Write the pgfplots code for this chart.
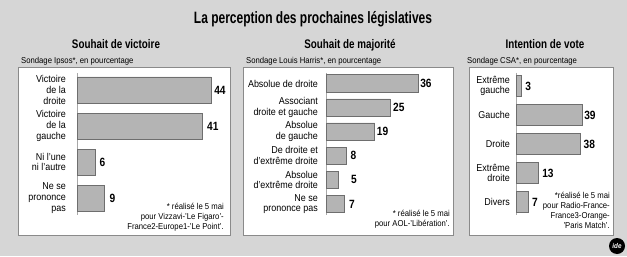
\documentclass[border=0pt]{standalone}
\usepackage{fontspec}
\setmainfont{Liberation Sans}[FakeStretch=0.9]
\newfontfamily\valfont{Liberation Sans}[FakeStretch=0.85]
\newfontfamily\titlefont{Liberation Sans}[FakeStretch=0.73]
\newfontfamily\subfont{Liberation Sans}[FakeStretch=0.79]
\usepackage{pgfplots}
\usepackage{pgfplotstable}
\pgfplotsset{compat=1.18}
\definecolor{bgc}{HTML}{D6D6D6}
\definecolor{boxc}{HTML}{8A8A8A}
\definecolor{barfill}{HTML}{B4B4B4}
\definecolor{bardraw}{HTML}{6E6E6E}
\definecolor{axisc}{HTML}{A8A8A8}

\pgfplotstableread{
c v dx
0 44 3
1 41 5
2 6 4
3 9 5
}\tabA
\pgfplotstableread{
c v dx
0 36 2
1 25 3
2 19 2
3 8 4
4 5 12
5 7 5
}\tabB
\pgfplotstableread{
c v dx
0 3 4
1 39 2
2 38 3
3 13 4
4 7 4
}\tabC

\pgfplotsset{panel/.style={
  scale only axis, anchor=south west, xbar, xmin=0, y dir=reverse,
  axis x line=none, axis y line=left,
  y axis line style={-, draw=axisc, line width=0.8bp},
  major tick length=0, ytick style={draw=none},
  yticklabel style={align=right, font=\fontsize{10}{10.8}\selectfont, inner sep=0pt},
  clip=false,
  /pgf/number format/assume math mode=true,
  point meta=explicit,
  visualization depends on={\thisrow{dx}\as\dx},
  nodes near coords,
  nodes near coords style={anchor=west, inner sep=0pt, text=black,
     font=\valfont\bfseries\fontsize{12}{12}\selectfont, xshift=\dx pt},
}}

\begin{document}
\begin{tikzpicture}
\begin{scope}[x=1bp,y=1bp]
\useasboundingbox (0,0) rectangle (627,256);
\fill[bgc] (0,0) rectangle (627,256);
% boxes
\foreach \a/\b in {18/230,243/453,469/613}{
  \filldraw[fill=white, draw=boxc, line width=0.8bp] (\a,21) rectangle (\b,189);
}
% titles
\node[anchor=base, inner sep=0pt] at (313,233) {\titlefont\bfseries\fontsize{16.5}{16.5}\selectfont La perception des prochaines législatives};
\node[anchor=base, inner sep=0pt] at (116,208) {\subfont\bfseries\fontsize{12.5}{12.5}\selectfont Souhait de victoire};
\node[anchor=base, inner sep=0pt] at (350,208) {\subfont\bfseries\fontsize{12.5}{12.5}\selectfont Souhait de majorité};
\node[anchor=base, inner sep=0pt] at (545,208) {\subfont\bfseries\fontsize{12.5}{12.5}\selectfont Intention de vote};
\node[anchor=base west, inner sep=0pt] at (21,193) {\fontsize{8.6}{10}\selectfont Sondage Ipsos*, en pourcentage};
\node[anchor=base west, inner sep=0pt] at (246,193) {\fontsize{8.6}{10}\selectfont Sondage Louis Harris*, en pourcentage};
\node[anchor=base west, inner sep=0pt] at (467,193) {\fontsize{8.6}{10}\selectfont Sondage CSA*, en pourcentage};
% footnotes
\node[anchor=north east, align=right, inner sep=0pt, font=\fontsize{8.6}{10.2}\selectfont] at (224,53) {* réalisé le 5 mai\\pour Vizzavi-'Le Figaro'-\\France2-Europe1-'Le Point'.};
\node[anchor=north east, align=right, inner sep=0pt, font=\fontsize{8.6}{10.2}\selectfont] at (450,46) {* réalisé le 5 mai\\pour AOL-'Libération'.};
\node[anchor=north east, align=right, inner sep=0pt, font=\fontsize{8.6}{10.2}\selectfont] at (610,64) {*réalisé le 5 mai\\pour Radio-France-\\France3-Orange-\\'Paris Match'.};
% logo
\fill[black] (617,10) circle (8);
\node[text=white, inner sep=0pt, font=\bfseries\itshape\fontsize{7}{7}\selectfont] at (617,10) {ide};
\end{scope}

% panel 1
\begin{axis}[panel, at={(77bp,41bp)}, width=134bp, height=142bp, xmax=44,
  ymin=-0.472, ymax=3.472, bar width=26bp, ytick={0,1,2,3},
  yticklabels={{Victoire\\de la\\droite},{Victoire\\de la\\gauche},{Ni l'une\\ni l'autre},{Ne se\\prononce\\pas}},
  yticklabel style={xshift=-11bp}]
\addplot[fill=barfill, draw=bardraw, line width=0.6bp] table[x=v,y=c,meta=v]{\tabA};
\end{axis}

% panel 2
\begin{axis}[panel, at={(326bp,41bp)}, width=92bp, height=142bp, xmax=36,
  ymin=-0.436, ymax=5.456, bar width=17.5bp, ytick={0,...,5},
  yticklabels={{Absolue de droite},{Associant\\droite et gauche},{Absolue\\de gauche},{De droite et\\d'extrême droite},{Absolue\\d'extrême droite},{Ne se\\prononce pas}},
  yticklabel style={xshift=-8bp}]
\addplot[fill=barfill, draw=bardraw, line width=0.6bp] table[x=v,y=c,meta=v]{\tabB};
\end{axis}

% panel 3
\begin{axis}[panel, at={(516bp,41bp)}, width=66bp, height=142bp, xmax=39,
  ymin=-0.448, ymax=4.448, bar width=21bp, ytick={0,...,4},
  yticklabels={{Extrême\\gauche},{Gauche},{Droite},{Extrême\\droite},{Divers}},
  yticklabel style={xshift=-6bp}]
\addplot[fill=barfill, draw=bardraw, line width=0.6bp] table[x=v,y=c,meta=v]{\tabC};
\end{axis}
\end{tikzpicture}
\end{document}
